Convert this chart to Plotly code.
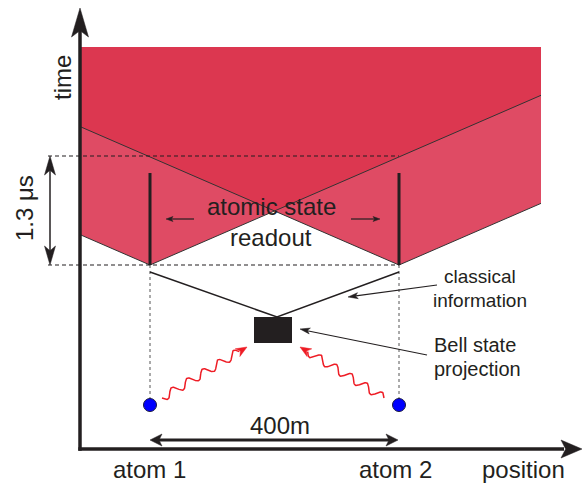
import numpy as np
import plotly.graph_objects as go

# ---- diagram geometry (pixel-like units, y grows downward) ----
W, H = 582, 484
axis_x0, axis_y0 = 80, 449          # origin of the position/time axes
axis_top, axis_right = 8, 582       # arrow tips
region_left, region_right = 81, 541
region_top = 47
atom_x = [150, 399]                 # atom 1, atom 2 positions
atom_y = 405                        # atoms' time (emission)
t_start = 265                       # start of readout
t_end = 156                         # end of readout (1.3 us later)
bar_top = 173
cone_slope = 0.434                  # light-cone slope (px time per px position)
box_x = [254, 292]
box_y = [317, 343]
info_apex = [277, 317]
info_start_y = 272
dist_y = 440                        # 400 m arrow
dim_x = 50                          # 1.3 us arrow

dark_red = "#DC3750"
light_red = "#DF4B64"
ink = "#231F20"
photon_red = "#EE1C25"
atom_blue = "#0000FF"

labels_atoms = ["atom 1", "atom 2"]
label_readout = ["atomic state", "readout"]
label_info = ["classical", "information"]
label_bell = ["Bell state", "projection"]
label_dist = "400m"
label_dt = "1.3 μs"
label_time = "time"
label_pos = "position"

FONT = "Arial, Liberation Sans, sans-serif"

fig = go.Figure()


def cone_y(x, ax):
    return t_start - cone_slope * abs(x - ax)


def poly(xs, ys, color, line_color=None, lw=0):
    fig.add_trace(go.Scatter(
        x=list(xs) + [xs[0]], y=list(ys) + [ys[0]], mode="lines", fill="toself",
        fillcolor=color, line=dict(color=line_color or color, width=lw),
        hoverinfo="skip", showlegend=False))


def seg(xs, ys, color=ink, width=1, dash=None):
    fig.add_trace(go.Scatter(
        x=xs, y=ys, mode="lines", line=dict(color=color, width=width, dash=dash),
        hoverinfo="skip", showlegend=False))


def head(tip, frm, length, width, color=ink, notch=0.75):
    tx, ty = tip
    d = np.array([tx - frm[0], ty - frm[1]], float)
    d /= np.linalg.norm(d)
    n = np.array([-d[1], d[0]])
    b = np.array([tx, ty]) - length * d
    p1 = b + n * width / 2
    p2 = np.array([tx, ty]) - notch * length * d
    p3 = b - n * width / 2
    poly([tx, p1[0], p2[0], p3[0]], [ty, p1[1], p2[1], p3[1]], color, color, 0.5)


a1, a2 = atom_x
xc = (a1 + a2) / 2
yc = cone_y(xc, a1)

# light region: union of the two future light cones
poly([region_left, region_right, region_right, a2, xc, a1, region_left],
     [region_top, region_top, cone_y(region_right, a2), t_start, yc, t_start,
      cone_y(region_left, a1)], light_red)
# dark region: intersection of both cones
poly([region_left, region_right, region_right, xc, region_left],
     [region_top, region_top, cone_y(region_right, a1), yc, cone_y(region_left, a2)],
     dark_red)

# cone edges
for ax in atom_x:
    seg([region_left, ax, region_right],
        [cone_y(region_left, ax), t_start, cone_y(region_right, ax)], "#333333", 1)

# dashed time markers
seg([dim_x - 2, a2], [t_end, t_end], ink, 1.1, "4px,3px")
seg([dim_x - 2, a2], [t_start, t_start], ink, 1.1, "4px,3px")

# readout bars
for ax in atom_x:
    seg([ax, ax], [bar_top, t_start], ink, 3)
    seg([ax, ax], [t_start, atom_y], "#555555", 1, "dot")

# classical information lines
seg([a1, info_apex[0], a2], [info_start_y, info_apex[1], info_start_y], ink, 1.5)

# Bell-state box
poly([box_x[0], box_x[1], box_x[1], box_x[0]], [box_y[0], box_y[0], box_y[1], box_y[1]], ink)

# photons (wavy arrows)
photon_ends = [((162, 398), (247, 347)), ((384, 398), (300, 347))]
for (sx, sy), (ex, ey) in photon_ends:
    d = np.array([ex - sx, ey - sy], float)
    L = np.linalg.norm(d)
    u = d / L
    n = np.array([-u[1], u[0]])
    s = np.linspace(0, L - 9, 200)
    amp = 4.0
    w = amp * np.sin(2 * np.pi * 5 * s / (L - 9))
    px = sx + u[0] * s + n[0] * w
    py = sy + u[1] * s + n[1] * w
    seg(px, py, photon_red, 1.5)
    head((ex, ey), (sx, sy), 11, 9, photon_red, 0.7)

# atoms
fig.add_trace(go.Scatter(
    x=atom_x, y=[atom_y] * 2, mode="markers",
    marker=dict(size=13, color=atom_blue, line=dict(color="#1a1a40", width=1)),
    hoverinfo="skip", showlegend=False))

# 1.3 us double arrow
seg([dim_x, dim_x], [t_end + 10, t_start - 10], ink, 1.5)
head((dim_x, t_end), (dim_x, t_start), 19, 11)
head((dim_x, t_start), (dim_x, t_end), 19, 11)

# 400 m double arrow
seg([a1 + 8, a2 - 8], [dist_y, dist_y], ink, 3)
head((a1, dist_y), (a2, dist_y), 12, 12)
head((a2 - 1, dist_y), (a1, dist_y), 12, 12)

# small readout arrows
seg([194, 170], [219, 219], ink, 1.2)
head((166, 219), (194, 219), 7, 5)
seg([351, 376], [219, 219], ink, 1.2)
head((380, 219), (351, 219), 7, 5)

# annotation arrows
seg([437, 354], [285, 296.2], ink, 1.2)
head((348, 297), (437, 285), 10, 6)
seg([427, 306], [355, 330.5], ink, 1.2)
head((300, 329), (427, 355), 10, 6)

# axes
seg([axis_x0, axis_x0], [axis_top + 20, axis_y0 + 1.7], ink, 3.5)
seg([axis_x0 - 1.7, axis_right - 18], [axis_y0, axis_y0], ink, 3.5)
head((axis_x0, axis_top), (axis_x0, axis_y0), 29, 17, ink, 0.78)
head((axis_right, axis_y0), (axis_x0, axis_y0), 21, 18, ink, 0.78)

# ---- text ----
ann = []


def text(x, y, s, size, xanchor="center", angle=0, color=ink):
    ann.append(dict(x=x, y=y, text=s, showarrow=False, xanchor=xanchor,
                    yanchor="middle", textangle=angle,
                    font=dict(family=FONT, size=size, color=color)))


text(62, 78, label_time, 24, angle=-90)
text(24, 208, label_dt, 24, angle=-90)
text(271, 206, label_readout[0], 24)
text(271, 237, label_readout[1], 24)
text(480, 276, label_info[0], 19)
text(480, 300, label_info[1], 19)
text(432, 345, label_bell[0], 20, xanchor="left")
text(432, 369, label_bell[1], 20, xanchor="left")
text(280, 425, label_dist, 24)
text(a1 - 1, 469, labels_atoms[0], 24)
text(a2 - 4, 469, labels_atoms[1], 24)
text(523, 469, label_pos, 24)

fig.update_layout(
    width=W, height=H, margin=dict(l=0, r=0, t=0, b=0),
    paper_bgcolor="white", plot_bgcolor="white", annotations=ann,
    xaxis=dict(range=[0, W], visible=False, fixedrange=True),
    yaxis=dict(range=[H, 0], visible=False, fixedrange=True),
    showlegend=False)

fig.write_html("out.html", config={"displayModeBar": False},
               post_script="document.body.style.margin='0px';"
                           "document.body.style.overflow='hidden';")
